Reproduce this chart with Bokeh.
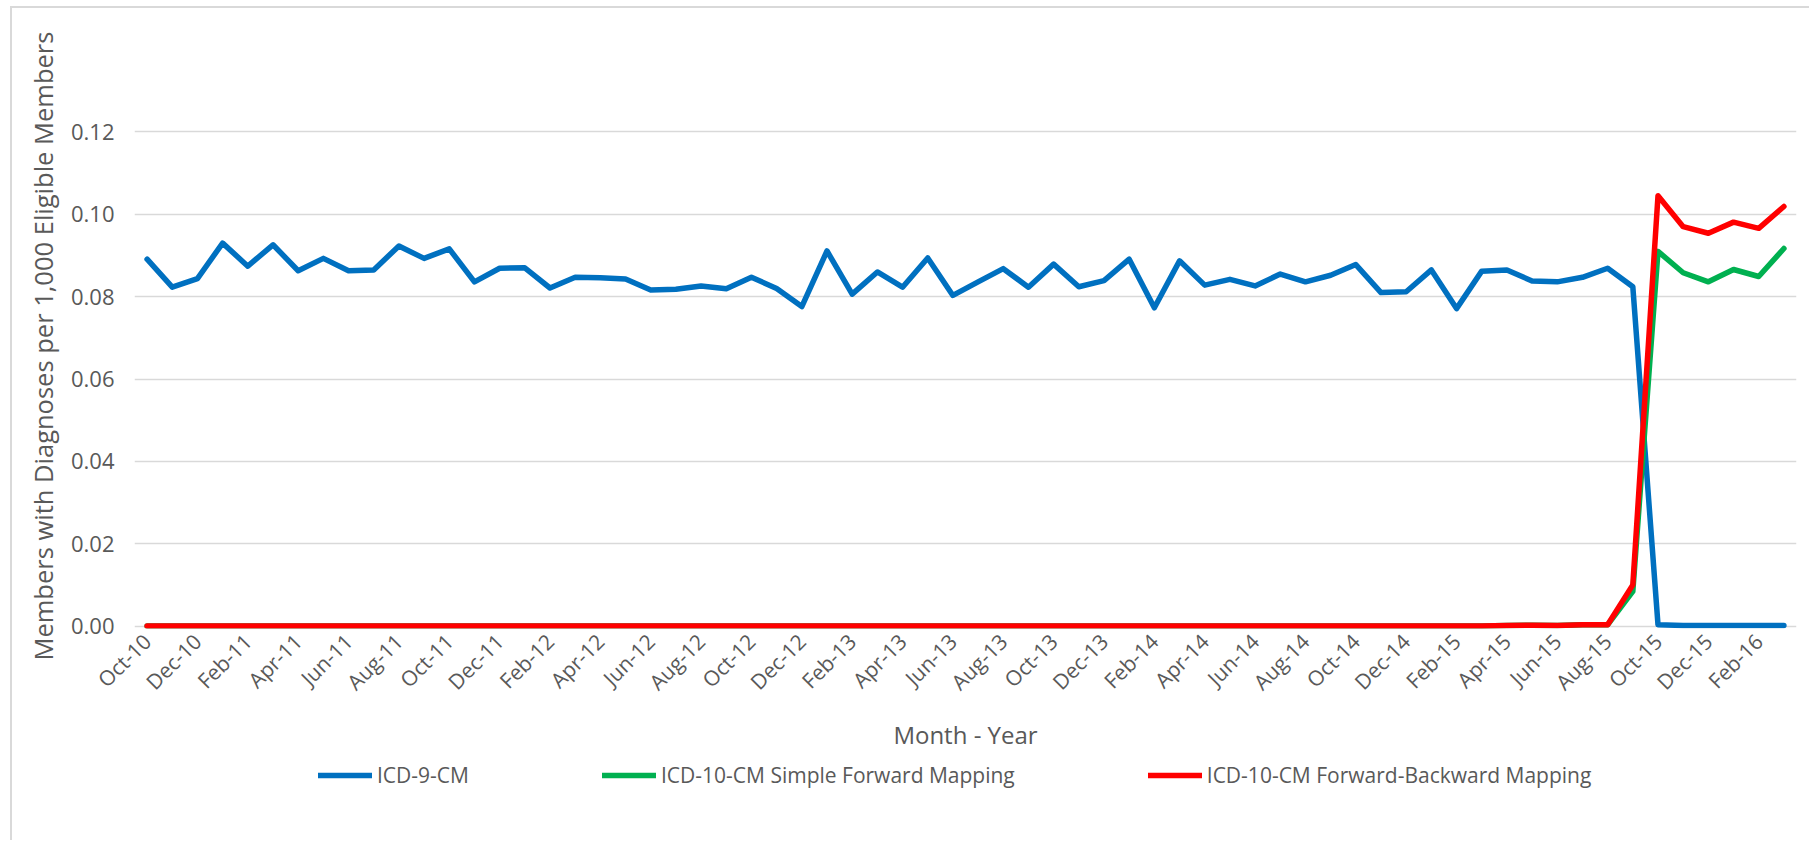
import math
from bokeh.plotting import figure
from bokeh.layouts import column
from bokeh.models import Range1d, FixedTicker, Legend, LegendItem, NumeralTickFormatter, Title
from bokeh.embed import file_html
from bokeh.resources import INLINE

months = [
    "Oct-10", "Nov-10", "Dec-10",
    "Jan-11", "Feb-11", "Mar-11", "Apr-11", "May-11", "Jun-11", "Jul-11", "Aug-11", "Sep-11", "Oct-11", "Nov-11", "Dec-11",
    "Jan-12", "Feb-12", "Mar-12", "Apr-12", "May-12", "Jun-12", "Jul-12", "Aug-12", "Sep-12", "Oct-12", "Nov-12", "Dec-12",
    "Jan-13", "Feb-13", "Mar-13", "Apr-13", "May-13", "Jun-13", "Jul-13", "Aug-13", "Sep-13", "Oct-13", "Nov-13", "Dec-13",
    "Jan-14", "Feb-14", "Mar-14", "Apr-14", "May-14", "Jun-14", "Jul-14", "Aug-14", "Sep-14", "Oct-14", "Nov-14", "Dec-14",
    "Jan-15", "Feb-15", "Mar-15", "Apr-15", "May-15", "Jun-15", "Jul-15", "Aug-15", "Sep-15", "Oct-15", "Nov-15", "Dec-15",
    "Jan-16", "Feb-16", "Mar-16",
]

icd9 = [
    0.0891, 0.0823, 0.0844,
    0.0930, 0.0874, 0.0926, 0.0863, 0.0893, 0.0863, 0.0865, 0.0923, 0.0893, 0.0916, 0.0836, 0.0869,
    0.0870, 0.0821, 0.0847, 0.0846, 0.0843, 0.0816, 0.0818, 0.0826, 0.0819, 0.0847, 0.0820, 0.0776,
    0.0911, 0.0806, 0.0860, 0.0823, 0.0894, 0.0803, 0.0836, 0.0868, 0.0823, 0.0879, 0.0824, 0.0839,
    0.0891, 0.0773, 0.0887, 0.0828, 0.0842, 0.0826, 0.0855, 0.0836, 0.0852, 0.0878, 0.0810, 0.0812,
    0.0865, 0.0771, 0.0862, 0.0865, 0.0838, 0.0836, 0.0847, 0.0869, 0.0824, 0.0003, 0.0001, 0.0001,
    0.0001, 0.0001, 0.0001,
]

icd10_simple = [
    0.0, 0.0, 0.0,
    0.0, 0.0, 0.0, 0.0, 0.0, 0.0, 0.0, 0.0, 0.0, 0.0, 0.0, 0.0,
    0.0, 0.0, 0.0, 0.0, 0.0, 0.0, 0.0, 0.0, 0.0, 0.0, 0.0, 0.0,
    0.0, 0.0, 0.0, 0.0, 0.0, 0.0, 0.0, 0.0, 0.0, 0.0, 0.0, 0.0,
    0.0, 0.0, 0.0, 0.0, 0.0, 0.0, 0.0, 0.0, 0.0, 0.0, 0.0, 0.0,
    0.0, 0.0, 0.0, 0.0001, 0.0002, 0.0001, 0.0003, 0.0003, 0.0084, 0.0910, 0.0858, 0.0836,
    0.0866, 0.0849, 0.0917,
]

icd10_fwd_bwd = [
    0.0, 0.0, 0.0,
    0.0, 0.0, 0.0, 0.0, 0.0, 0.0, 0.0, 0.0, 0.0, 0.0, 0.0, 0.0,
    0.0, 0.0, 0.0, 0.0, 0.0, 0.0, 0.0, 0.0, 0.0, 0.0, 0.0, 0.0,
    0.0, 0.0, 0.0, 0.0, 0.0, 0.0, 0.0, 0.0, 0.0, 0.0, 0.0, 0.0,
    0.0, 0.0, 0.0, 0.0, 0.0, 0.0, 0.0, 0.0, 0.0, 0.0, 0.0, 0.0,
    0.0, 0.0, 0.0, 0.0001, 0.0002, 0.0001, 0.0003, 0.0003, 0.0100, 0.1045, 0.0970, 0.0954,
    0.0981, 0.0966, 0.1019,
]

y_ticks = [0.00, 0.02, 0.04, 0.06, 0.08, 0.10, 0.12]
y_title = "Members with Diagnoses per 1,000 Eligible Members"
x_title = "Month - Year"
series_names = ["ICD-9-CM", "ICD-10-CM Simple Forward Mapping", "ICD-10-CM Forward-Backward Mapping"]
series_colors = ["#0070C0", "#00B050", "#FF0000"]

FONT = "Open Sans"
TXT = "#595959"
LW = 5.5

x = list(range(len(months)))

# ---------------- main chart ----------------
p = figure(
    width=1797, height=752,
    output_backend="svg", toolbar_location=None,
    x_range=Range1d(-0.5, len(months) - 0.5),
    y_range=Range1d(y_ticks[0] - 0.0006, y_ticks[-1] + 0.0006),
    min_border_left=122, min_border_right=13, min_border_top=121, min_border_bottom=132,
)
p.outline_line_color = None
p.background_fill_color = "white"
p.border_fill_color = "white"

p.xgrid.grid_line_color = None
p.ygrid.grid_line_color = "#d9d9d9"
p.ygrid.grid_line_width = 1.5

p.yaxis.ticker = FixedTicker(ticks=y_ticks)
p.yaxis.formatter = NumeralTickFormatter(format="0.00")
p.yaxis.axis_line_color = None
p.yaxis.major_tick_line_color = None
p.yaxis.minor_tick_line_color = None
p.yaxis.major_label_text_font = FONT
p.yaxis.major_label_text_font_size = "22px"
p.yaxis.major_label_text_color = TXT
p.yaxis.major_label_standoff = 14

# y-axis title as a left-side title so it can be offset along the axis
p.add_layout(Title(
    text=y_title, align="left", offset=-32, vertical_align="bottom", standoff=15,
    text_font=FONT, text_font_size="25.5px", text_font_style="normal", text_color=TXT,
), "left")

p.xaxis.ticker = FixedTicker(ticks=x[::2])
p.xaxis.major_label_overrides = {i: months[i] for i in x[::2]}
p.xaxis.major_label_orientation = math.pi / 4
p.xaxis.axis_line_color = None
p.xaxis.major_tick_line_color = None
p.xaxis.minor_tick_line_color = None
p.xaxis.major_label_text_font = FONT
p.xaxis.major_label_text_font_size = "21px"
p.xaxis.major_label_text_color = TXT
p.xaxis.major_label_standoff = 3
p.xaxis.axis_label = x_title
p.xaxis.axis_label_text_font = FONT
p.xaxis.axis_label_text_font_size = "24px"
p.xaxis.axis_label_text_font_style = "normal"
p.xaxis.axis_label_text_color = TXT
p.xaxis.axis_label_standoff = 9

for vals, col in zip([icd9, icd10_simple, icd10_fwd_bwd], series_colors):
    p.line(x, vals, line_color=col, line_width=LW, line_join="round", line_cap="round")

# ---------------- legend strip ----------------
lg = figure(
    width=1797, height=80,
    output_backend="svg", toolbar_location=None,
    x_axis_type=None, y_axis_type=None,
    x_range=Range1d(0, 1), y_range=Range1d(0, 1),
    min_border=0,
)
lg.outline_line_color = None
lg.grid.grid_line_color = None
lg.background_fill_color = "white"
lg.border_fill_color = "white"

items = []
for name, col in zip(series_names, series_colors):
    r = lg.line([math.nan], [math.nan], line_color=col, line_width=LW, line_cap="round")
    items.append(LegendItem(label=name, renderers=[r]))

legend = Legend(
    items=items,
    orientation="horizontal",
    location=(184, 51),
    spacing=133,
    glyph_width=54, glyph_height=20,
    label_standoff=5,
    padding=0, margin=0,
    border_line_color=None,
    background_fill_alpha=0,
    label_text_font=FONT,
    label_text_font_size="21px",
    label_text_color=TXT,
)
lg.add_layout(legend)

layout = column(p, lg, spacing=0)
layout.styles = {
    "margin-left": "10px", "margin-top": "6px",
    "border-left": "2px solid #d9d9d9", "border-top": "2px solid #d9d9d9",
    "background-color": "white",
}

open("out.html", "w").write(file_html(layout, INLINE))
